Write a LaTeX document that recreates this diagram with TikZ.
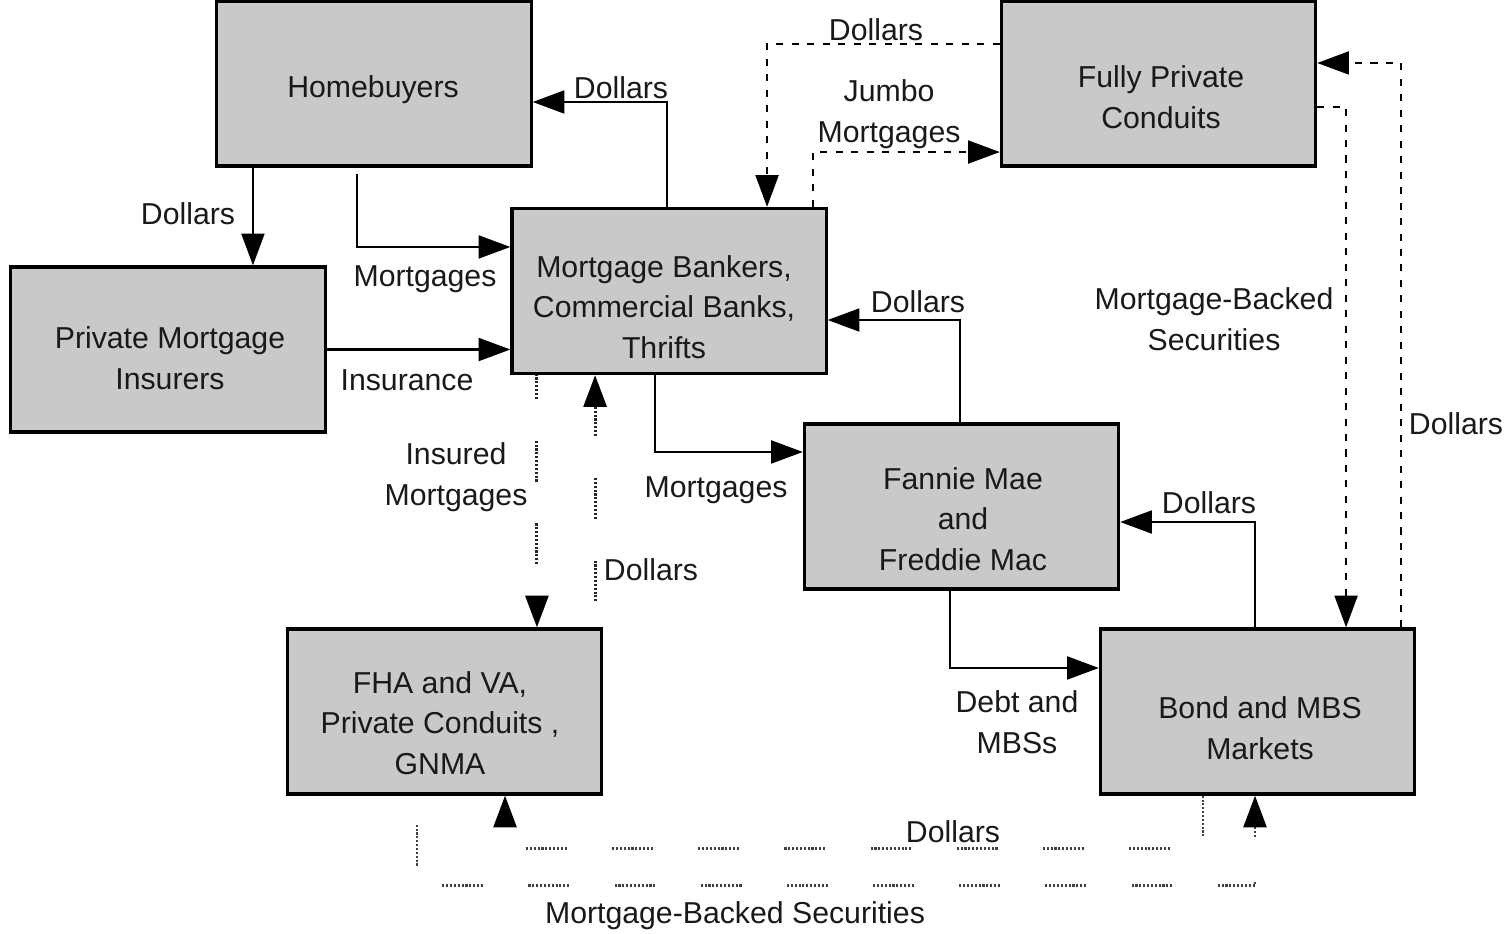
\documentclass[tikz,border=0pt]{standalone}
\usepackage{fontspec}
\setmainfont{Liberation Sans}
\usetikzlibrary{arrows.meta}
\definecolor{boxgray}{RGB}{201,201,201}
\definecolor{inkc}{RGB}{25,25,25}
\begin{document}
\begin{tikzpicture}[x=0.01cm,y=-0.01cm,
  box/.style={draw=black, line width=0.9pt, fill=boxgray, minimum width=3.14cm, minimum height=1.65cm, inner sep=0pt},
  btext/.style={align=center, font=\fontsize{8.6pt}{11.6pt}\selectfont, text=inkc, inner sep=0pt},
  lbl/.style={btext},
  flowtip/.style={-{Triangle[length=9pt,width=6.5pt,color=black]}},
  solidflow/.style={flowtip, line width=0.65pt},
  dashflow/.style={flowtip, line width=0.65pt, dash pattern=on 2pt off 2.4pt},
  dotflow/.style={flowtip, line width=0.85pt, black!85,
    dash pattern=on .6pt off .5pt on .6pt off .5pt on .6pt off .5pt on .6pt off .5pt on .6pt off .5pt on .6pt off .5pt on .6pt off .5pt on .6pt off .5pt on .6pt off .5pt on .6pt off .5pt on .6pt off 11.9pt},
  faintflow/.style={flowtip, line width=0.8pt, black!75,
    dash pattern=on .6pt off .5pt on .6pt off .5pt on .6pt off .5pt on .6pt off .5pt on .6pt off .5pt on .6pt off .5pt on .6pt off .5pt on .6pt off .5pt on .6pt off .5pt on .6pt off .5pt on .6pt off 12.9pt},
]
\useasboundingbox (0,0) rectangle (1510,934);

% boxes
\node[box] (hb)  at (374,83.5)    {};
\node[box] (pmi) at (168,349.5)   {};
\node[box] (mb)  at (669,291)     {};
\node[box] (fpc) at (1158.5,83.5) {};
\node[box] (ff)  at (961.5,506.5) {};
\node[box] (fha) at (444.5,711.5) {};
\node[box] (bms) at (1257.5,711.5){};

% box texts
\node[btext] (hbt)  at (373,90)   {Homebuyers};
\node[btext] (pmit) at (170,358)  {Private Mortgage\\Insurers};
\node[btext] (mbt)  at (664,307)  {Mortgage Bankers,\\Commercial Banks,\\Thrifts};
\node[btext] (fpct) at (1161,97)  {Fully Private\\Conduits};
\node[btext] (fft)  at (963,519)  {Fannie Mae\\and\\Freddie Mac};
\node[btext] (fhat) at (440,723)  {FHA and VA,\\Private Conduits ,\\GNMA};
\node[btext] (bmst) at (1260,728) {Bond and MBS\\Markets};

% solid connectors
\coordinate (a1) at ([xshift=-1.21cm]hb.south);
\draw[solidflow] (a1) -- (a1 |- pmi.north);
\draw[solidflow] ([xshift=-0.17cm,yshift=-0.06cm]hb.south) |- ([yshift=0.44cm]mb.west);
\draw[solidflow] ([xshift=-0.02cm]mb.north) |- ([yshift=-0.185cm]hb.east);
\draw[solidflow] (pmi.east) -- (pmi.east -| mb.west);
\draw[solidflow] ([xshift=-0.14cm]mb.south) |- ([yshift=0.545cm]ff.west);
\draw[solidflow] ([xshift=-0.015cm]ff.north) |- ([yshift=-0.29cm]mb.east);
\draw[solidflow] ([xshift=-0.115cm]ff.south) |- ([yshift=0.435cm]bms.west);
\draw[solidflow] ([xshift=-0.025cm]bms.north) |- ([yshift=-0.155cm]ff.east);

% dotted long-dash connectors
\coordinate (a5) at ([xshift=-1.32cm]mb.south);
\draw[dotflow, dash phase=0.17cm] (a5) -- (a5 |- fha.north);
\coordinate (a6) at ([xshift=1.505cm]fha.north);
\draw[dotflow] ([yshift=0.26cm]a6) -- (a6 |- mb.south);

% dashed connectors (conduits)
\draw[dashflow] ([xshift=1.44cm]mb.north) |- ([yshift=-0.685cm]fpc.west);
\draw[dashflow] ([yshift=0.395cm]fpc.west) -| ([xshift=0.98cm]mb.north);
\draw[dashflow] ([yshift=-0.235cm]fpc.east) -| ([xshift=0.885cm]bms.north);
\draw[dashflow] ([xshift=1.435cm]bms.north) |- ([yshift=0.205cm]fpc.east);

% bottom connectors
\draw[faintflow] ([xshift=-0.545cm]bms.south) -- ++(0,53) -| ([xshift=0.605cm]fha.south);
\draw[faintflow, dash phase=0.57cm] ([xshift=-0.275cm]fha.south) -- ++(0,90) -| ([xshift=-0.025cm]bms.south);

% labels
\node[lbl] (l1)  at (188,214)  {Dollars};
\node[lbl] (l2)  at (425,279)  {Mortgages};
\node[lbl] (l3)  at (621,88)   {Dollars};
\node[lbl] (l4)  at (407,380)  {Insurance};
\node[lbl] (l5)  at (456,477)  {Insured\\Mortgages};
\node[lbl] (l6)  at (651,570)  {Dollars};
\node[lbl] (l7)  at (716,490)  {Mortgages};
\node[lbl] (l8)  at (918,302)  {Dollars};
\node[lbl] (l9)  at (1017,722) {Debt and\\MBSs};
\node[lbl] (l10) at (1209,503) {Dollars};
\node[lbl] (l11) at (889,114)  {Jumbo\\Mortgages};
\node[lbl] (l12) at (876,30)   {Dollars};
\node[lbl] (l13) at (1214,319) {Mortgage-Backed\\Securities};
\node[lbl] (l14) at (1456,424) {Dollars};
\node[lbl] (l15) at (953,832)  {Dollars};
\node[lbl] (l16) at (735,916)  {Mortgage-Backed Securities};
\end{tikzpicture}
\end{document}
